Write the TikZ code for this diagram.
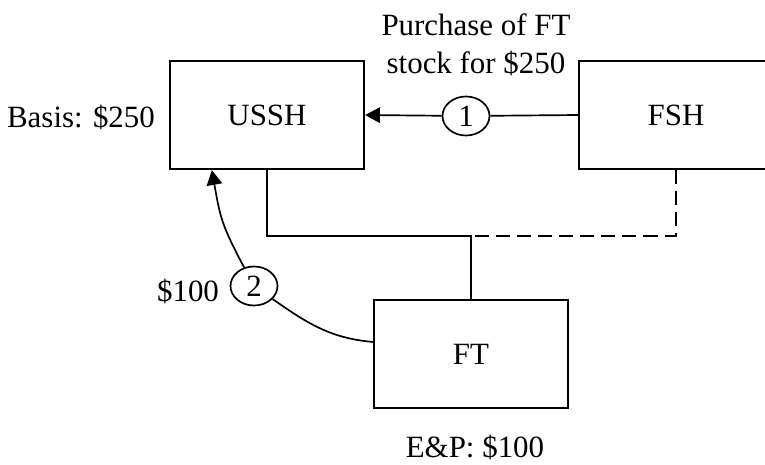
\documentclass[tikz,border=0pt]{standalone}
\usepackage{fontspec}
\setmainfont{Liberation Serif}
\usepackage{tikz}
\usetikzlibrary{shapes.geometric, arrows.meta, positioning}
\tikzstyle{entity} = [rectangle, 
minimum width=4.85cm, 
minimum height=2.7cm, text centered, 
draw=black, line width=1.6pt]
\tikzstyle{stepmark} = [ellipse, minimum width=1.175cm, minimum height=0.975cm,
inner sep=0pt, draw=black, line width=1.2pt]
\tikzstyle{arrow} = [line width=1.2pt,-{Triangle[length=10.5pt,width=11pt]}]
\tikzstyle{link} = [line width=1.2pt]

\begin{document}
\begin{tikzpicture}[font=\fontsize{22}{27}\selectfont]
        \useasboundingbox (0,0) rectangle (19.125,11.625);
        \node[entity] (ussh) at (6.675,8.75) {USSH};
        \node[entity] (fsh) at (16.9,8.75) {FSH};
        \node[entity] (ft) at (11.775,2.775) {FT};
        \coordinate (bus) at (11.775,5.725);

        % ownership lines
        \draw[link] (ussh.south) |- (bus) -- (ft.north);
        \draw[link, dash pattern=on 10pt off 5pt] (fsh.south) |- (bus);

        % step 1: stock purchase
        \node[stepmark] (one) at (11.65,8.725) {1};
        \draw[link] (fsh.west) -- (one);
        \draw[arrow] (one) -- (ussh.east);
        \node[align=center] (buy) at (11.9,10.5) {Purchase of FT\\stock for \$250};

        % step 2: distribution
        \node[stepmark] (two) at (6.35,4.475) {2};
        \draw[link] (ft.173) to[out=175,in=-35] (two);
        \draw[arrow] (two) to[out=118,in=-80,looseness=1.2] (ussh.-135);
        \node[anchor=base] (amt) at (4.7,4.075) {\$100};

        \node[anchor=base] (basis) at (2.025,8.425) {Basis: \$250};
        \node[anchor=base] (ep) at (11.875,0.2) {E\&P: \$100};
    \end{tikzpicture}
\end{document}
